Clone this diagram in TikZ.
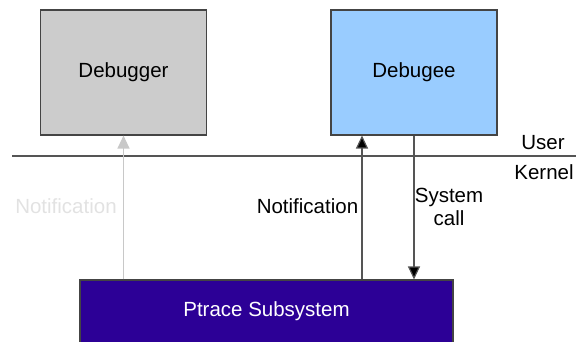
\documentclass[tikz,border=0pt]{standalone}
\usepackage{fontspec}
\setmainfont{Liberation Sans}
\usetikzlibrary{arrows.meta}

\definecolor{dbggray}{HTML}{CCCCCC}
\definecolor{dbeblue}{HTML}{99CCFF}
\definecolor{ptracepurple}{HTML}{2C0096}
\definecolor{edgegray}{HTML}{444444}
\definecolor{linegray}{HTML}{555555}
\definecolor{fadegray}{HTML}{C8C8C8}
\definecolor{fadetext}{HTML}{E2E2E2}

\begin{document}
\begin{tikzpicture}[x=1pt, y=-1pt,
    label font/.style={font=\fontsize{20.5}{23}\selectfont},
    procbox/.style={draw=edgegray, line width=1.1pt, minimum width=166pt, minimum height=125pt, label font},
    arr/.style={draw=linegray, line width=1.2pt, -{Triangle[length=13pt,width=12pt]}}]

    \useasboundingbox (0,0) rectangle (576,341);

    % User space processes
    \node[procbox, fill=dbggray] (dbg) at (123.5,72.5) {Debugger};
    \node[procbox, fill=dbeblue] (dbe) at (414,72.5) {Debugee};
    % Kernel side
    \node[draw=edgegray, line width=1.1pt, fill=ptracepurple, text=white, label font,
          minimum width=373pt, minimum height=63pt] (ptrace) at (266.5,311.5) {Ptrace Subsystem};

    % User / kernel boundary
    \coordinate (bl) at (12,156);
    \coordinate (br) at (576,156);
    \draw[linegray, line width=1.2pt] (bl) -- (br);
    \node[label font] (user) at (543,143) {User};
    \node[label font] (kernel) at (544,172) {Kernel};

    % Arrows between kernel and processes
    \draw[arr, draw=fadegray, -{Triangle[length=13pt,width=12pt,fill=fadegray]}] (ptrace.north -| dbg.south) -- (dbg.south);
    \coordinate (up) at ([xshift=-52pt]dbe.south);
    \draw[arr, -{Triangle[length=13pt,width=12pt,fill=black]}] (ptrace.north -| up) -- (up);
    \draw[arr, -{Triangle[length=13pt,width=12pt,fill=black]}] (dbe.south) -- (ptrace.north -| dbe.south);

    \node[label font, text=fadetext] (note1) at (66,206) {Notification};
    \node[label font] (note2) at (307.5,206) {Notification};
    \node[label font, align=center] (syscall) at (449,207) {System\\call};
\end{tikzpicture}
\end{document}
